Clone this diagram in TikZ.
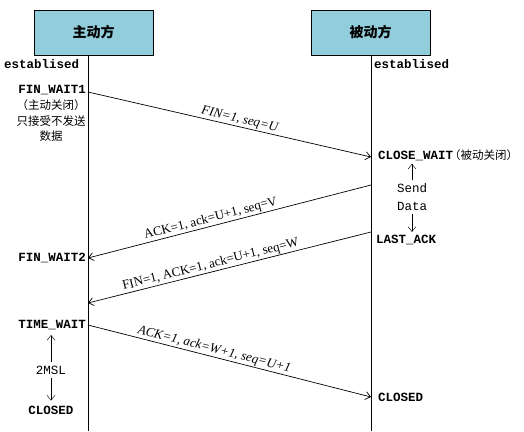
\documentclass[tikz,border=0pt]{standalone}
\usepackage{fontspec}
\usetikzlibrary{arrows.meta}
\setmainfont{Liberation Serif}
\setmonofont{Liberation Mono}
\newfontfamily\cjk{Noto Sans CJK SC}
\definecolor{rolefill}{HTML}{92CDDC}
\begin{document}
\begin{tikzpicture}[x=1pt, y=-1pt, line join=round, >={Straight Barb[length=5pt,width=8pt]},
	role/.style={draw, line width=.8pt, fill=rolefill, minimum width=119pt, minimum height=45pt, font=\cjk\bfseries\fontsize{14}{16}\selectfont},
	state/.style={inner sep=0pt, font=\ttfamily\bfseries\fontsize{12.5}{14}\selectfont},
	plain/.style={inner sep=0pt, align=center, font=\ttfamily\fontsize{12.5}{18}\selectfont},
	note/.style={inner sep=0pt, align=center, font=\cjk\fontsize{11.5}{15.5}\selectfont},
	msg/.style={sloped, above, inner sep=1pt, font=\fontsize{13}{15}\selectfont},
	life/.style={line width=.8pt},
	arr/.style={line width=.7pt}]
	\useasboundingbox (0,0) rectangle (524,431);
	% roles and life lines
	\node[role] (act) at (93.5,32.5) {主动方};
	\node[role] (pas) at (370.5,32.5) {被动方};
	\coordinate (actend) at (88,431);
	\coordinate (pasend) at (371,431);
	\draw[life] (act.south -| actend) -- (actend);
	\draw[life] (pas.south -| pasend) -- (pasend);
	% states
	\node[state, anchor=west] (est1) at (4,64) {establised};
	\node[state, anchor=west] (est2) at (374,64) {establised};
	\node[state, anchor=east] (fw1) at (86,90) {FIN\_WAIT1};
	\node[note] (fw1note) at (51,121) {（主动关闭）\\只接受不发送\\数据};
	\node[state, anchor=west] (cw) at (378,155) {CLOSE\_WAIT{\cjk\mdseries\fontsize{11.5}{14}\selectfont\kern-4pt（被动关闭）}};
	\node[plain] (sd) at (412,197) {Send\\Data};
	\node[state, anchor=west] (la) at (376,240) {LAST\_ACK};
	\node[state, anchor=east] (fw2) at (86,258) {FIN\_WAIT2};
	\node[state, anchor=east] (tw) at (86,325) {TIME\_WAIT};
	\node[plain] (msl) at (51,370) {2MSL};
	\node[state] (cl1) at (51,410) {CLOSED};
	\node[state, anchor=west] (cl2) at (378,397) {CLOSED};
	\draw[->, shorten <=3pt, shorten >=3pt] (sd) -- (sd |- cw.south);
	\draw[->, shorten <=3pt, shorten >=3pt] (sd) -- (sd |- la.north);
	\draw[->, shorten <=4pt, shorten >=5pt] (msl) -- (msl |- tw.south);
	\draw[->, shorten <=4pt, shorten >=5pt] (msl) -- (msl |- cl1.north);
	% messages
	\path (88,92) coordinate (m1s) (371,157) coordinate (m1e)
		(371,185) coordinate (m2s) (88,258) coordinate (m2e)
		(371,232) coordinate (m3s) (88,303) coordinate (m3e)
		(88,325) coordinate (m4s) (371,397) coordinate (m4e);
	\draw[arr, ->] (m1s) -- node[msg, pos=.53]{\itshape FIN=1, seq=U} (m1e);
	\draw[arr, <-] (m2e) -- node[msg, pos=.44]{ACK=1, ack=U+1, seq=V} (m2s);
	\draw[arr, <-] (m3e) -- node[msg, pos=.44]{FIN=1, ACK=1, ack=U+1, seq=W} (m3s);
	\draw[arr, ->] (m4s) -- node[msg, pos=.44]{\itshape ACK=1, ack=W+1, seq=U+1} (m4e);
\end{tikzpicture}
\end{document}
